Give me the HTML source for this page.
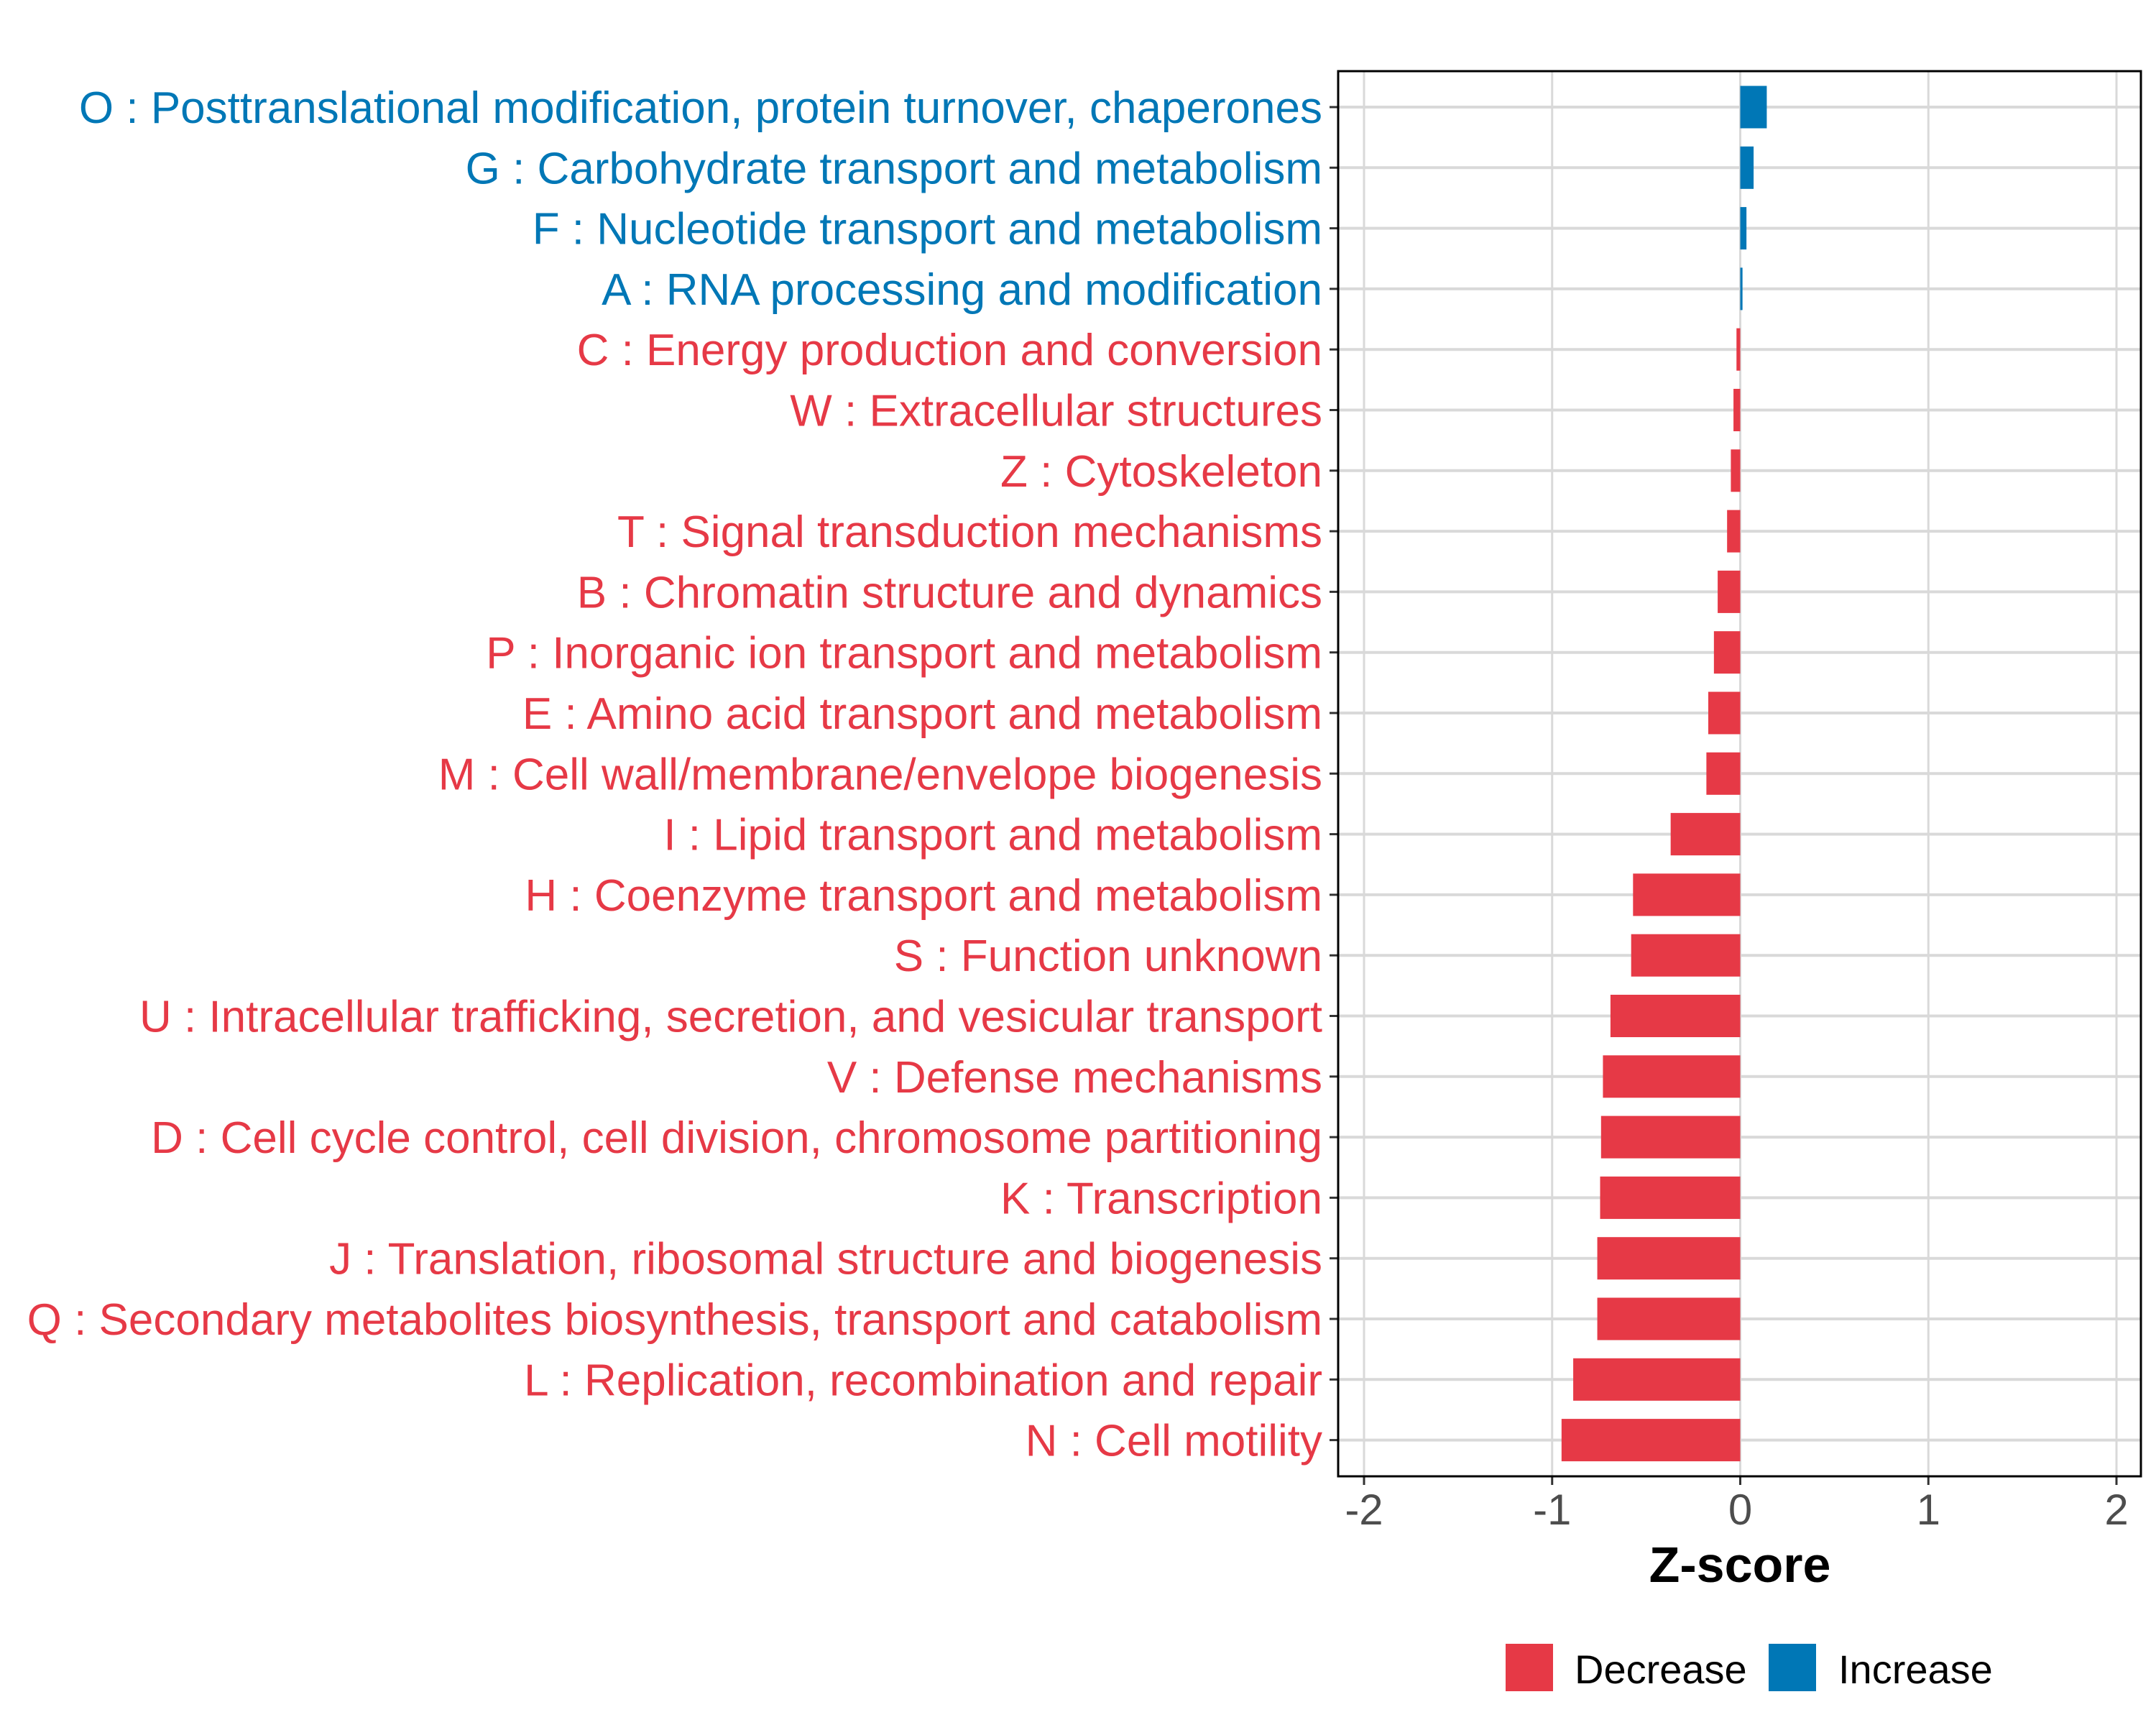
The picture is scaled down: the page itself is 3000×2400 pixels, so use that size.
<!DOCTYPE html>
<html><head><meta charset="utf-8"><style>
html,body{margin:0;padding:0;background:#fff;}
svg{display:block;font-family:"Liberation Sans",sans-serif;}
</style></head><body>
<svg id="chart" width="3000" height="2400" viewBox="0 0 3000 2400" xmlns="http://www.w3.org/2000/svg">
<rect x="0" y="0" width="3000" height="2400" fill="#fff"/>
<g id="grid"></g><g id="bars"></g><g id="ylabels"></g><g id="xaxis"></g>
<rect x="1862" y="99" width="1117" height="1955" fill="none" stroke="#000" stroke-width="3"/>
<text x="2421" y="2201" font-size="70" font-weight="bold" text-anchor="middle" fill="#000">Z-score</text>
<g>
<rect x="2095" y="2287" width="66" height="66" fill="#E63946"/>
<text x="2191" y="2342" font-size="56" fill="#000">Decrease</text>
<rect x="2461" y="2287" width="66" height="66" fill="#0077B6"/>
<text x="2558" y="2342" font-size="56" fill="#000">Increase</text>
</g>
</svg>
<script>
const categories = [
"O : Posttranslational modification, protein turnover, chaperones",
"G : Carbohydrate transport and metabolism",
"F : Nucleotide transport and metabolism",
"A : RNA processing and modification",
"C : Energy production and conversion",
"W : Extracellular structures",
"Z : Cytoskeleton",
"T : Signal transduction mechanisms",
"B : Chromatin structure and dynamics",
"P : Inorganic ion transport and metabolism",
"E : Amino acid transport and metabolism",
"M : Cell wall/membrane/envelope biogenesis",
"I : Lipid transport and metabolism",
"H : Coenzyme transport and metabolism",
"S : Function unknown",
"U : Intracellular trafficking, secretion, and vesicular transport",
"V : Defense mechanisms",
"D : Cell cycle control, cell division, chromosome partitioning",
"K : Transcription",
"J : Translation, ribosomal structure and biogenesis",
"Q : Secondary metabolites biosynthesis, transport and catabolism",
"L : Replication, recombination and repair",
"N : Cell motility"
];
const zscores = [0.141,0.071,0.033,0.012,-0.02,-0.036,-0.05,-0.07,-0.12,-0.14,-0.17,-0.18,-0.37,-0.57,-0.58,-0.69,-0.73,-0.74,-0.745,-0.76,-0.76,-0.888,-0.95];
const xTicks = [-2,-1,0,1,2];
const xTickLabels = ["-2","-1","0","1","2"];

const NS="http://www.w3.org/2000/svg";
const RED="#E63946", BLUE="#0077B6";
const x0=2421.5, unit=261.75;
const xs = v => x0 + v*unit;
const yTop=149, step=84.3;
const ys = i => yTop + i*step;
const barH = 59;
function mk(tag, attrs, parent){const e=document.createElementNS(NS,tag);for(const k in attrs)e.setAttribute(k,attrs[k]);parent.appendChild(e);return e;}
const grid=document.getElementById('grid'), bars=document.getElementById('bars'), yl=document.getElementById('ylabels'), xa=document.getElementById('xaxis');
xTicks.forEach((t,i)=>{
  const g=mk('line',{x1:xs(t),x2:xs(t),y1:99,y2:2054,stroke:'#d9d9d9','stroke-width':3},grid);
  
  
  const tk=mk('line',{x1:xs(t),x2:xs(t),y1:2054,y2:2066,stroke:'#333','stroke-width':3},xa);
  
  
  const tl=mk('text',{x:xs(t),y:2121,'font-size':60,fill:'#4d4d4d','text-anchor':'middle'},xa);
  tl.textContent=xTickLabels[i];
  
  
});
categories.forEach((c,i)=>{
  const y=ys(i);
  const gl=mk('line',{x1:1862,x2:2979,y1:y,y2:y,stroke:'#d9d9d9','stroke-width':4},grid);
  
  
  const v=zscores[i];
  const col=v>=0?BLUE:RED;
  const b=mk('rect',{x:Math.min(xs(0),xs(v)),y:y-barH/2,width:Math.abs(xs(v)-xs(0)),height:barH,fill:col},bars);
  
  
  const tk=mk('line',{x1:1850,x2:1862,y1:y,y2:y,stroke:'#333','stroke-width':3},yl);
  
  
  const t=mk('text',{x:1840,y:y+22,'font-size':62,fill:col,'text-anchor':'end'},yl);
  t.textContent=c;
  
  
});
</script>
</body></html>
